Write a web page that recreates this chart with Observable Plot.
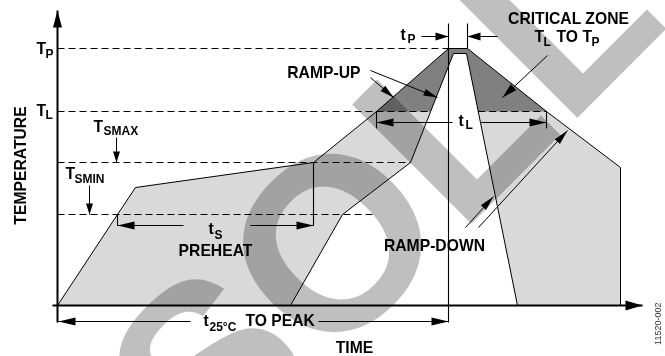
<!DOCTYPE html>
<html><head><meta charset="utf-8">
<script src="https://cdn.jsdelivr.net/npm/d3@7"></script>
<script src="https://cdn.jsdelivr.net/npm/@observablehq/plot@0.6"></script>
<style>html,body{margin:0;padding:0;background:#fff;overflow:hidden}</style>
</head><body><div id="chart"></div>
<script>
// Temperature levels (abstract units)
const T25 = 0, TSMIN = 91, TSMAX = 143, TL = 194, TP = 257, TPEAK_INNER = 252;
// Slow (outer) profile
const outerTime = [0, 60, 78, 256, 319, 391, 410, 489, 563, 563];
const outerTemp = [T25, TSMIN, 118, TSMAX, TL, TP, TP, TL, 138, T25];
// Fast (inner) profile
const innerTime = [233, 285, 353, 396, 409, 460];
const innerTemp = [T25, TSMIN, TSMAX, TPEAK_INNER, TPEAK_INNER, T25];
// Critical zone (TL to TP) of the outer profile
const zoneTime = [319, 391, 410, 489];
const zoneTemp = [TL, TP, TP, TL];
// Time markers
const tPeak = 391, tPeakEnd = 410, tSStart = 60, tSEnd = 256, tLStart = 319, tLEnd = 489;
const tSminDashEnd = 315, xMax = 583, yMax = 295;

const FONT = "Liberation Sans, Arial, Helvetica, sans-serif";
const toRows = (ts, vs) => ts.map((t, i) => ({t, v: vs[i]}));
const outer = toRows(outerTime, outerTemp);
const inner = toRows(innerTime, innerTemp);
const zone = toRows(zoneTime, zoneTemp);

// crossing of the inner profile with TL
function cross(a, b, v) { return a.t + (v - a.v) / (b.v - a.v) * (b.t - a.t); }
const innerLeftTL = cross(inner[2], inner[3], TL);
const innerRightTL = cross(inner[4], inner[5], TL);

const dashes = [
  {x1: 0, x2: tPeak, y: TP},
  {x1: 0, x2: innerLeftTL, y: TL},
  {x1: innerRightTL, x2: tLEnd, y: TL},
  {x1: 0, x2: innerTime[2], y: TSMAX},
  {x1: 0, x2: tSminDashEnd, y: TSMIN}
];

const verticals = [
  {x: tPeak, y1: 282, y2: -17},
  {x: tPeakEnd, y1: 282, y2: TP},
  {x: tSEnd, y1: TSMAX, y2: 80},
  {x: tSStart, y1: TSMIN, y2: 80},
  {x: tLStart, y1: TL, y2: 177},
  {x: tLEnd, y1: TL, y2: 177}
];

const arrows = [
  {x1: 59, y1: 168, x2: 59, y2: TSMAX, len: 11, wid: 7},
  {x1: 32, y1: 120, x2: 32, y2: TSMIN, len: 11, wid: 7},
  {x1: 126, y1: 80, x2: tSStart, y2: 80, len: 17, wid: 8},
  {x1: 193, y1: 80, x2: tSEnd, y2: 80, len: 17, wid: 8},
  {x1: 133, y1: -16, x2: 1, y2: -16, len: 17, wid: 8},
  {x1: 261, y1: -16, x2: tPeak, y2: -16, len: 17, wid: 8},
  {x1: 395, y1: 183, x2: tLStart, y2: 183, len: 17, wid: 8},
  {x1: 423, y1: 183, x2: tLEnd, y2: 183, len: 17, wid: 8},
  {x1: 364, y1: 269, x2: tPeak, y2: 269, len: 13, wid: 8},
  {x1: 440, y1: 269, x2: tPeakEnd, y2: 269, len: 13, wid: 8},
  {x1: 313, y1: 235, x2: 380, y2: 208, len: 14, wid: 7},
  {x1: 313, y1: 228, x2: 336, y2: 208, len: 14, wid: 7},
  {x1: 490, y1: 250, x2: 445, y2: 208, len: 15, wid: 8},
  {x1: 408, y1: 78, x2: 436, y2: 109, len: 15, wid: 7},
  {x1: 421, y1: 78, x2: 510, y2: 175, len: 15, wid: 7}
];
const axes = [
  {x1: 0, y1: -17, x2: 0, y2: yMax, len: 17, wid: 9},
  {x1: -5, y1: 0, x2: 585, y2: 0, len: 17, wid: 10}
];
function heads(list) {
  const rows = [];
  list.forEach((a, i) => {
    const dx = a.x2 - a.x1, dy = a.y2 - a.y1, n = Math.hypot(dx, dy);
    const ux = dx / n, uy = dy / n;
    const bx = a.x2 - ux * a.len, by = a.y2 - uy * a.len;
    const px = -uy * a.wid / 2, py = ux * a.wid / 2;
    rows.push({id: i, t: a.x2, v: a.y2}, {id: i, t: bx + px, v: by + py}, {id: i, t: bx - px, v: by - py});
  });
  return rows;
}

const BIG = 15.7, SUB = 12;
const labels = [
  {text: "T", x: -21, y: 252, size: BIG, anchor: "start"},
  {text: "P", x: -12, y: 248, size: SUB, anchor: "start"},
  {text: "T", x: -21, y: 190, size: BIG, anchor: "start"},
  {text: "L", x: -12, y: 187, size: SUB, anchor: "start"},
  {text: "T", x: 36, y: 174, size: BIG, anchor: "start"},
  {text: "SMAX", x: 46, y: 171, size: SUB, anchor: "start"},
  {text: "T", x: 8, y: 127, size: BIG, anchor: "start"},
  {text: "SMIN", x: 17, y: 123, size: SUB, anchor: "start"},
  {text: "t", x: 343, y: 266, size: BIG, anchor: "start"},
  {text: "P", x: 350, y: 263, size: SUB, anchor: "start"},
  {text: "CRITICAL ZONE", x: 511, y: 282, size: BIG, anchor: "middle"},
  {text: "T", x: 477, y: 264, size: BIG, anchor: "start"},
  {text: "L", x: 486, y: 260, size: SUB, anchor: "start"},
  {text: "TO", x: 499, y: 264, size: BIG, anchor: "start"},
  {text: "T", x: 525, y: 264, size: BIG, anchor: "start"},
  {text: "P", x: 534, y: 260, size: SUB, anchor: "start"},
  {text: "RAMP-UP", x: 303, y: 228, size: BIG, anchor: "end"},
  {text: "t", x: 401, y: 180, size: BIG, anchor: "start"},
  {text: "L", x: 408, y: 177, size: SUB, anchor: "start"},
  {text: "RAMP-DOWN", x: 377, y: 55, size: BIG, anchor: "middle"},
  {text: "t", x: 151, y: 72, size: BIG, anchor: "start"},
  {text: "S", x: 157, y: 67, size: SUB, anchor: "start"},
  {text: "PREHEAT", x: 158, y: 50, size: BIG, anchor: "middle"},
  {text: "t", x: 146, y: -20, size: BIG, anchor: "start"},
  {text: "25°C", x: 152, y: -25, size: SUB, anchor: "start"},
  {text: "TO PEAK", x: 188, y: -20, size: BIG, anchor: "start"},
  {text: "TIME", x: 297, y: -47, size: BIG, anchor: "middle"}
];
const watermark = [{text: "SOLL", x: 152, y: -180}];

const txt = (anchor) => Plot.text(labels.filter(d => d.anchor === anchor), {
  x: "x", y: "y", text: "text", fontSize: "size", textAnchor: anchor, lineAnchor: "bottom",
  fontWeight: "bold", fontFamily: FONT, fill: "black"
});

const chart = Plot.plot({
  width: 665, height: 356,
  marginLeft: 57, marginRight: 25, marginTop: 10, marginBottom: 51,
  x: {domain: [0, xMax], axis: null},
  y: {domain: [0, yMax], axis: null},
  style: {background: "white", overflow: "hidden"},
  marks: [
    Plot.line(outer, {x: "t", y: "v", fill: "#d9d9d9", stroke: "none"}),
    Plot.line(zone, {x: "t", y: "v", fill: "#808080", stroke: "none"}),
    Plot.line(inner, {x: "t", y: "v", fill: "white", stroke: "none"}),
    Plot.text(watermark, {x: "x", y: "y", text: "text", rotate: -45, fontSize: 245, fontWeight: "bold",
      fontFamily: FONT, textAnchor: "start", lineAnchor: "bottom", fill: "#bfbfbf", mixBlendMode: "multiply"}),
    Plot.link(dashes, {x1: "x1", x2: "x2", y1: "y", y2: "y", stroke: "black", strokeWidth: 1, strokeDasharray: "7,4"}),
    Plot.line(outer, {x: "t", y: "v", stroke: "black", strokeWidth: 1}),
    Plot.line(inner, {x: "t", y: "v", stroke: "black", strokeWidth: 1}),
    Plot.link(verticals, {x1: "x", x2: "x", y1: "y1", y2: "y2", stroke: "black", strokeWidth: 1.1}),
    Plot.link(arrows, {x1: "x1", y1: "y1", x2: "x2", y2: "y2", stroke: "black", strokeWidth: 1}),
    Plot.line(heads(arrows), {x: "t", y: "v", z: "id", fill: "black", stroke: "none"}),
    Plot.link(axes, {x1: "x1", y1: "y1", x2: "x2", y2: "y2", stroke: "black", strokeWidth: 2}),
    Plot.line(heads(axes), {x: "t", y: "v", z: "id", fill: "black", stroke: "none"}),
    txt("start"), txt("middle"), txt("end"),
    Plot.text(["TEMPERATURE"], {x: () => -37, y: () => 140, text: d => d, rotate: -90, fontSize: BIG,
      fontWeight: "bold", fontFamily: FONT, textAnchor: "middle", lineAnchor: "middle", fill: "black"}),
    Plot.text(["11520-002"], {x: () => 601, y: () => 3, text: d => d, rotate: -90, fontSize: 9,
      fontFamily: FONT, textAnchor: "end", lineAnchor: "middle", fill: "#333"})
  ]
});
document.getElementById("chart").appendChild(chart);
</script>
</body></html>
